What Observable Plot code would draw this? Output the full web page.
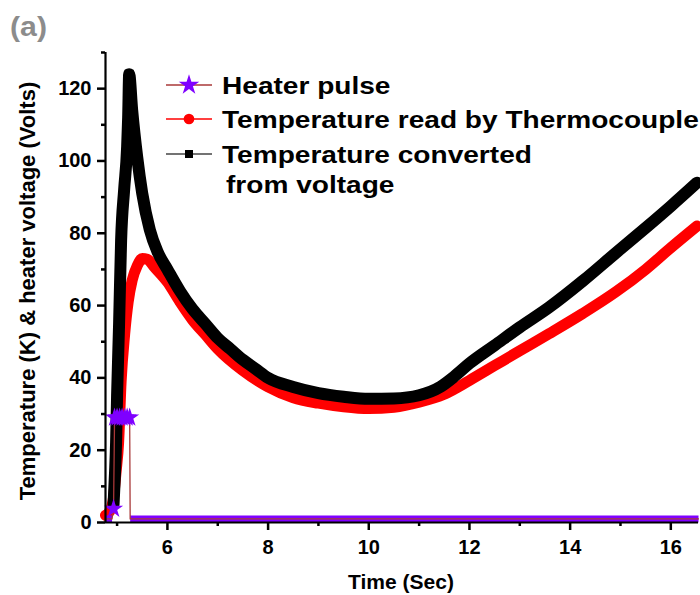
<!DOCTYPE html>
<html>
<head>
<meta charset="utf-8">
<script src="https://cdn.jsdelivr.net/npm/d3@7"></script>
<script src="https://cdn.jsdelivr.net/npm/@observablehq/plot@0.6"></script>
<style>
  body { margin: 0; background: #fff; }
  #chart { position: relative; width: 700px; height: 595px; }
  #chart svg { overflow: visible; }
</style>
</head>
<body>
<div id="chart"></div>
<script>
// Axis extents and ticks
const xDomain = [4.77, 16.55];
const yDomain = [0, 130];
const xMajor = [6, 8, 10, 12, 14, 16];
const xMinor = [5, 7, 9, 11, 13, 15];
const yMajor = [0, 20, 40, 60, 80, 100, 120];
const yMinor = [10, 30, 50, 70, 90, 110, 130];

// Heater pulse (volts)
const heaterTime  = [4.77, 4.84, 4.9, 4.93, 4.95, 5.0, 5.05, 5.1, 5.15, 5.2, 5.25, 5.26, 5.5, 6, 8, 10, 12, 14, 16, 16.55];
const heaterVolts = [1, 1, 1, 3.8, 29, 29, 29, 29, 29, 29, 29, 1, 1, 1, 1, 1, 1, 1, 1, 1];

// Temperature read by thermocouple (K)
const thermoTime = [4.77, 4.85, 4.92, 4.98, 5.03, 5.08, 5.15, 5.22, 5.3, 5.4, 5.5, 5.6, 5.75, 6.0, 6.25, 6.5, 6.75, 7.0, 7.5, 8.0, 8.5, 9.0, 9.5, 10.0, 10.5, 11.0, 11.5, 12.0, 12.5, 13.0, 13.58, 14.25, 14.91, 15.5, 16.0, 16.52];
const thermoTemp = [2, 3, 6, 14, 22, 39, 52, 61, 67, 71, 73, 72.8, 70.5, 66.5, 61, 56, 52, 48, 42, 37.5, 34.5, 33, 32, 31.5, 31.9, 33.3, 35.5, 39.3, 43.4, 47.5, 52.2, 57.8, 63.8, 70, 76, 82];

// Temperature converted from voltage (K)
const convTime = [4.93, 4.96, 4.98, 5.0, 5.04, 5.08, 5.14, 5.2, 5.22, 5.24, 5.3, 5.4, 5.5, 5.65, 5.8, 6.0, 6.25, 6.5, 6.75, 7.0, 7.25, 7.5, 7.75, 8.0, 8.5, 9.0, 9.5, 10.0, 10.5, 11.0, 11.43, 11.7, 12.0, 12.5, 13.0, 13.58, 14.25, 14.91, 15.5, 16.0, 16.52];
const convTemp = [5, 14, 22, 35, 55, 78, 92, 104, 112, 124, 114, 101, 91, 81, 75, 70, 64, 59, 55, 51, 48, 45, 42.5, 40, 37.5, 35.8, 34.8, 34.2, 34.3, 35.2, 37.6, 40.4, 44, 49, 54, 59.5, 66.8, 74.6, 81.5, 87.5, 94];

const heater = heaterTime.map((t, i) => ({t, v: heaterVolts[i]}));
const thermo = thermoTime.map((t, i) => ({t, v: thermoTemp[i]}));
const conv = convTime.map((t, i) => ({t, v: convTemp[i]}));

// baseline stretches of the heater trace, before and after the pulse
const heaterBase = heater.filter(d => d.v < 2).map(d => ({...d, seg: d.t < 5 ? "before" : "after"}));
const heaterOn = heater.filter(d => d.v >= 2);

const colors = {heater: "#7f00ff", heaterLine: "#a83838", thermo: "#ff0000", conv: "#000000"};

const chart = Plot.plot({
  width: 700,
  height: 595,
  marginLeft: 105,
  marginRight: 2,
  marginTop: 52,
  marginBottom: 73,
  x: {domain: xDomain},
  y: {domain: yDomain},
  style: {fontFamily: "'Liberation Sans', Arial, sans-serif", fontWeight: "bold", fontSize: "20px", color: "#000", background: "#fff"},
  marks: [
    Plot.line(thermo, {x: "t", y: "v", stroke: colors.thermo, strokeWidth: 11, curve: "monotone-x"}),
    Plot.line(conv, {x: "t", y: "v", stroke: colors.conv, strokeWidth: 12, curve: "monotone-x"}),
    Plot.dot(conv.filter(d => d.t < 5.25), {x: "t", y: "v", symbol: "square", fill: colors.conv, r: 5}),
    Plot.line(heaterBase, {x: "t", y: "v", z: "seg", stroke: colors.heater, strokeWidth: 7, strokeLinecap: "butt"}),
    Plot.line(heater, {x: "t", y: "v", stroke: colors.heaterLine, strokeWidth: 1.3}),
    Plot.dot(heaterOn, {x: "t", y: "v", symbol: "star", fill: colors.heater, r: 6}),
    Plot.ruleX([xDomain[0]], {stroke: "#000", strokeWidth: 2.2}),
    Plot.ruleY([yDomain[0]], {stroke: "#000", strokeWidth: 2.2}),
    Plot.axisY(yMajor, {tickSize: 8, tickPadding: 6, strokeWidth: 2.5, fontSize: 20, label: null}),
    Plot.axisY(yMinor, {tickSize: 4, strokeWidth: 2.5, text: null, label: null}),
    Plot.axisX(xMajor, {tickSize: 8, tickPadding: 9, strokeWidth: 2.5, fontSize: 20, label: null}),
    Plot.axisX(xMinor, {tickSize: 4, strokeWidth: 2.5, text: null, label: null})
  ]
});

document.getElementById("chart").appendChild(chart);

// Panel tag, axis titles and legend drawn into the same SVG
const svg = d3.select(chart);
const font = "'Liberation Sans', Arial, sans-serif";

svg.append("text")
  .attr("transform", "translate(10,36) scale(1.12,1)")
  .attr("text-anchor", "start")
  .attr("font-family", font).attr("font-weight", "bold").attr("font-size", 27)
  .attr("fill", "#8c8c8c")
  .text("(a)");

svg.append("text")
  .attr("transform", "translate(35,291) rotate(-90)")
  .attr("text-anchor", "middle")
  .attr("font-family", font).attr("font-weight", "bold").attr("font-size", 22)
  .attr("fill", "#000")
  .text("Temperature (K) & heater voltage (Volts)");

svg.append("text")
  .attr("x", 401).attr("y", 589)
  .attr("text-anchor", "middle")
  .attr("font-family", font).attr("font-weight", "bold").attr("font-size", 21)
  .attr("fill", "#000")
  .text("Time (Sec)");

const legend = svg.append("g")
  .attr("text-anchor", "start")
  .attr("font-family", font).attr("font-weight", "bold").attr("font-size", 24).attr("fill", "#000");

const rows = [
  {label: "Heater pulse", line: colors.heaterLine, symbol: d3.symbolStar, size: 130, fill: colors.heater, y: 85},
  {label: "Temperature read by Thermocouple", line: colors.thermo, symbol: d3.symbolCircle, size: 90, fill: colors.thermo, y: 119},
  {label: "Temperature converted", line: "#444", symbol: d3.symbolSquare, size: 64, fill: colors.conv, y: 154}
];

// legend lettering is set a little wider than the regular face
const stretch = 1.17;

rows.forEach(r => {
  legend.append("line")
    .attr("x1", 166).attr("x2", 212).attr("y1", r.y).attr("y2", r.y)
    .attr("stroke", r.line).attr("stroke-width", 1.5);
  legend.append("path")
    .attr("d", d3.symbol(r.symbol, r.size)())
    .attr("transform", `translate(189,${r.y})`)
    .attr("fill", r.fill);
  legend.append("text")
    .attr("transform", `translate(222,${r.y + 8.5}) scale(${stretch},1)`)
    .text(r.label);
});

legend.append("text")
  .attr("transform", `translate(226,193) scale(${stretch},1)`)
  .text("from voltage");
</script>
</body>
</html>
